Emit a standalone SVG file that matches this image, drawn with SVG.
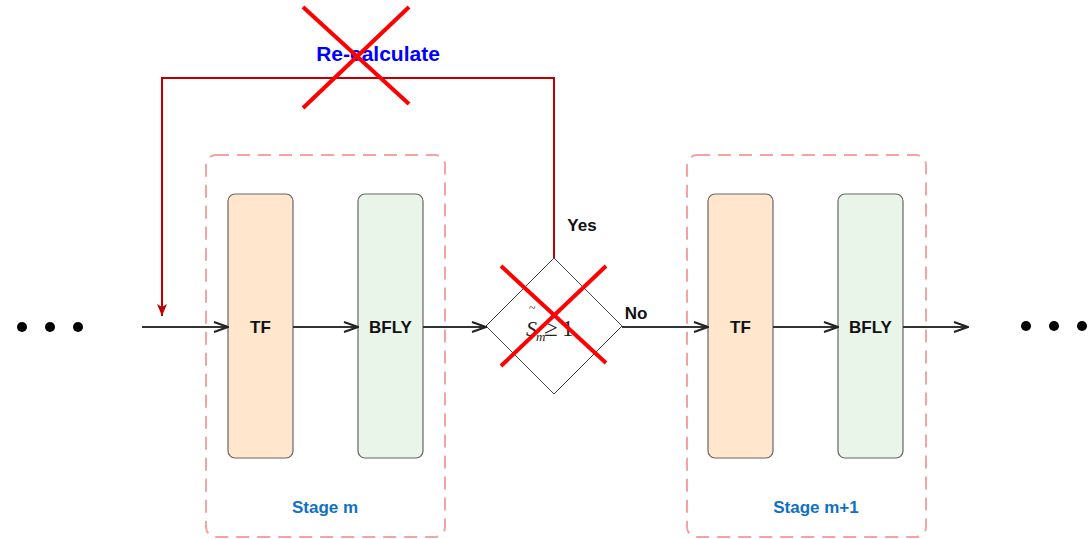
<svg xmlns="http://www.w3.org/2000/svg" width="1090" height="539" viewBox="0 0 1090 539">
  <defs>
    <marker id="open-arrow" viewBox="0 0 16 12" refX="15" refY="6" markerWidth="16" markerHeight="12" markerUnits="userSpaceOnUse" orient="auto">
      <path d="M1,1 L15,6 L1,11" fill="none" stroke="#222" stroke-width="2"/>
    </marker>
    <marker id="red-arrow" viewBox="0 0 12 14" refX="6" refY="13" markerWidth="12" markerHeight="14" markerUnits="userSpaceOnUse" orient="0">
      <path d="M1,1 L6,4 L11,1 L6,13 Z" fill="#C00000"/>
    </marker>
    <style>
      .stage { fill: none; stroke: #F4A3A3; stroke-width: 2; stroke-dasharray: 13 8; }
      .tf { fill: #FFE6CC; stroke: #666; stroke-width: 1.2; }
      .bfly { fill: #EAF5E9; stroke: #666; stroke-width: 1.2; }
      .lbl { font-family: "Liberation Sans", Arial, sans-serif; font-weight: bold; font-size: 17px; fill: #111; text-anchor: middle; }
      .stage-lbl { font-family: "Liberation Sans", Arial, sans-serif; font-weight: bold; font-size: 17px; fill: #1070C4; text-anchor: middle; }
      .flow { fill: none; stroke: #333; stroke-width: 2; marker-end: url(#open-arrow); }
      .cross { stroke: #FF0000; stroke-width: 4; stroke-linecap: butt; }
      .dot { fill: #000; }
      .math { font-family: "Liberation Serif", "Times New Roman", serif; fill: #222; }
    </style>
  </defs>

  <!-- stage containers -->
  <g id="stage-m">
    <rect class="stage" x="206" y="155" width="239" height="382" rx="10"/>
    <text class="stage-lbl" x="325" y="513">Stage m</text>
  </g>
  <g id="stage-m1">
    <rect class="stage" x="687" y="155" width="239" height="382" rx="10"/>
    <text class="stage-lbl" x="816" y="513">Stage m+1</text>
  </g>

  <!-- processing blocks -->
  <g id="tf-m">
    <rect class="tf" x="228" y="194" width="65" height="264" rx="7"/>
    <text class="lbl" x="260.5" y="333">TF</text>
  </g>
  <g id="bfly-m">
    <rect class="bfly" x="358" y="194" width="65" height="264" rx="7"/>
    <text class="lbl" x="390.5" y="333">BFLY</text>
  </g>
  <g id="tf-m1">
    <rect class="tf" x="708" y="194" width="65" height="264" rx="7"/>
    <text class="lbl" x="740.5" y="333">TF</text>
  </g>
  <g id="bfly-m1">
    <rect class="bfly" x="838" y="194" width="65" height="264" rx="7"/>
    <text class="lbl" x="870.5" y="333">BFLY</text>
  </g>

  <!-- decision -->
  <g id="decision">
    <path d="M554,258 L622,326 L554,394 L486,326 Z" fill="#fff" stroke="#444" stroke-width="1"/>
    <text class="math" x="529" y="312" font-size="12">~</text>
    <text class="math" x="526" y="336" font-size="22" font-style="italic">S</text>
    <text class="math" x="536" y="341" font-size="13" font-style="italic">m</text>
    <text class="math" x="544" y="336" font-size="25">≥</text>
    <text class="math" x="562" y="336" font-size="23">1</text>
  </g>

  <!-- ellipses -->
  <g id="dots-left">
    <circle class="dot" cx="22" cy="327" r="5"/>
    <circle class="dot" cx="50" cy="327" r="5"/>
    <circle class="dot" cx="78" cy="327" r="5"/>
  </g>
  <g id="dots-right">
    <circle class="dot" cx="1026" cy="326" r="5"/>
    <circle class="dot" cx="1054" cy="326" r="5"/>
    <circle class="dot" cx="1082" cy="326" r="5"/>
  </g>

  <!-- connectors -->
  <g id="connectors">
    <path class="flow" d="M142,327 L228,327"/>
    <path class="flow" d="M293,327 L358,327"/>
    <path class="flow" d="M423,327 L486,327"/>
    <path class="flow" d="M622,327 L708,327"/>
    <path class="flow" d="M773,327 L838,327"/>
    <path class="flow" d="M903,327 L968,327"/>
    <path d="M554,258 L554,78 L162,78 L162,316" fill="none" stroke="#C00000" stroke-width="2" marker-end="url(#red-arrow)"/>
    <text class="lbl" x="582" y="231">Yes</text>
    <text class="lbl" x="636" y="319">No</text>
    <text x="378" y="61" font-family="Liberation Sans, Arial, sans-serif" font-weight="bold" font-size="21" fill="#0000FF" text-anchor="middle">Re-calculate</text>
  </g>

  <!-- strike-through marks -->
  <g id="strike-top">
    <line class="cross" x1="303" y1="7" x2="409" y2="104"/>
    <line class="cross" x1="409" y1="7" x2="303" y2="108"/>
  </g>
  <g id="strike-decision">
    <line class="cross" x1="501" y1="266" x2="606" y2="363"/>
    <line class="cross" x1="606" y1="266" x2="501" y2="366"/>
  </g>
</svg>
